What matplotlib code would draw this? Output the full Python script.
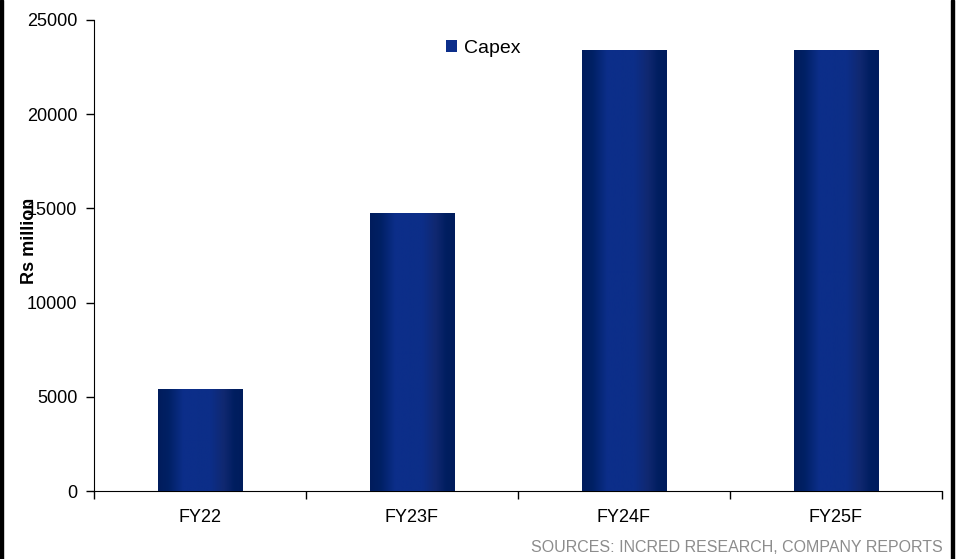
import matplotlib
matplotlib.use("Agg")
import matplotlib.pyplot as plt
import numpy as np
from matplotlib.patches import Rectangle

plt.rcParams['font.family'] = ['Liberation Sans', 'DejaVu Sans']

categories = ["FY22", "FY23F", "FY24F", "FY25F"]
capex = [5400, 14750, 23400, 23400]

# horizontal shading of each bar: dark edges, lighter centre
stops = [0.0, 0.12, 0.3, 0.62, 0.78, 0.9, 1.0]
cols = np.array([[0, 28, 92], [0, 32, 100], [12, 46, 138], [12, 46, 136],
                 [16, 40, 112], [0, 30, 96], [0, 28, 92]]) / 255.0


def shade(n=200):
    x = np.linspace(0, 1, n)
    img = np.stack([np.interp(x, stops, cols[:, i]) for i in range(3)], axis=-1)
    return img[np.newaxis, :, :]


fig = plt.figure(figsize=(9.57, 5.59), dpi=100)
ax = fig.add_axes([94/957, 68/559, 848/957, 471/559])

width = 0.4
pos = np.arange(len(categories))
bars = ax.bar(pos, capex, width=width, color="#0c2e8a", label="Capex", zorder=2)
for b in bars:
    x0, y0 = b.get_x(), b.get_y()
    im = ax.imshow(shade(), extent=[x0, x0 + b.get_width(), y0, y0 + b.get_height()],
                   aspect="auto", zorder=3)
    im.set_clip_path(b)

ax.set_xlim(-0.5, len(categories) - 0.5)
ax.set_ylim(0, 25000)
ax.set_yticks(np.arange(0, 25001, 5000))
ax.set_xticks(pos)
ax.set_xticklabels(categories)
ax.set_xticks(np.arange(-0.5, len(categories), 1), minor=True)
ax.tick_params(axis="x", which="major", length=0, labelsize=13, pad=13)
ax.tick_params(axis="x", which="minor", length=6, width=1)
ax.tick_params(axis="y", length=6, width=1, labelsize=13, pad=6)

ax.spines["top"].set_visible(False)
ax.spines["right"].set_visible(False)

ax.set_ylabel("Rs million", fontsize=13, fontweight="bold")
ax.yaxis.set_label_coords(-0.066, 0.53)

leg = ax.legend(loc="upper left", bbox_to_anchor=(0.395, 0.995), frameon=False,
                fontsize=14, handlelength=0.55, handleheight=0.6, handletextpad=0.35)

fig.text(943/957, 1 - 548/559, "SOURCES: INCRED RESEARCH, COMPANY REPORTS",
         ha="right", va="center", fontsize=11.5, color="#8c8c8c")

# black side frame lines
fig.add_artist(Rectangle((0, 0), 3/957, 1, transform=fig.transFigure,
                         color="black", zorder=10))
fig.add_artist(Rectangle((951/957, 0), 3/957, 1, transform=fig.transFigure,
                         color="black", zorder=10))

fig.savefig("out.png", dpi=100)
